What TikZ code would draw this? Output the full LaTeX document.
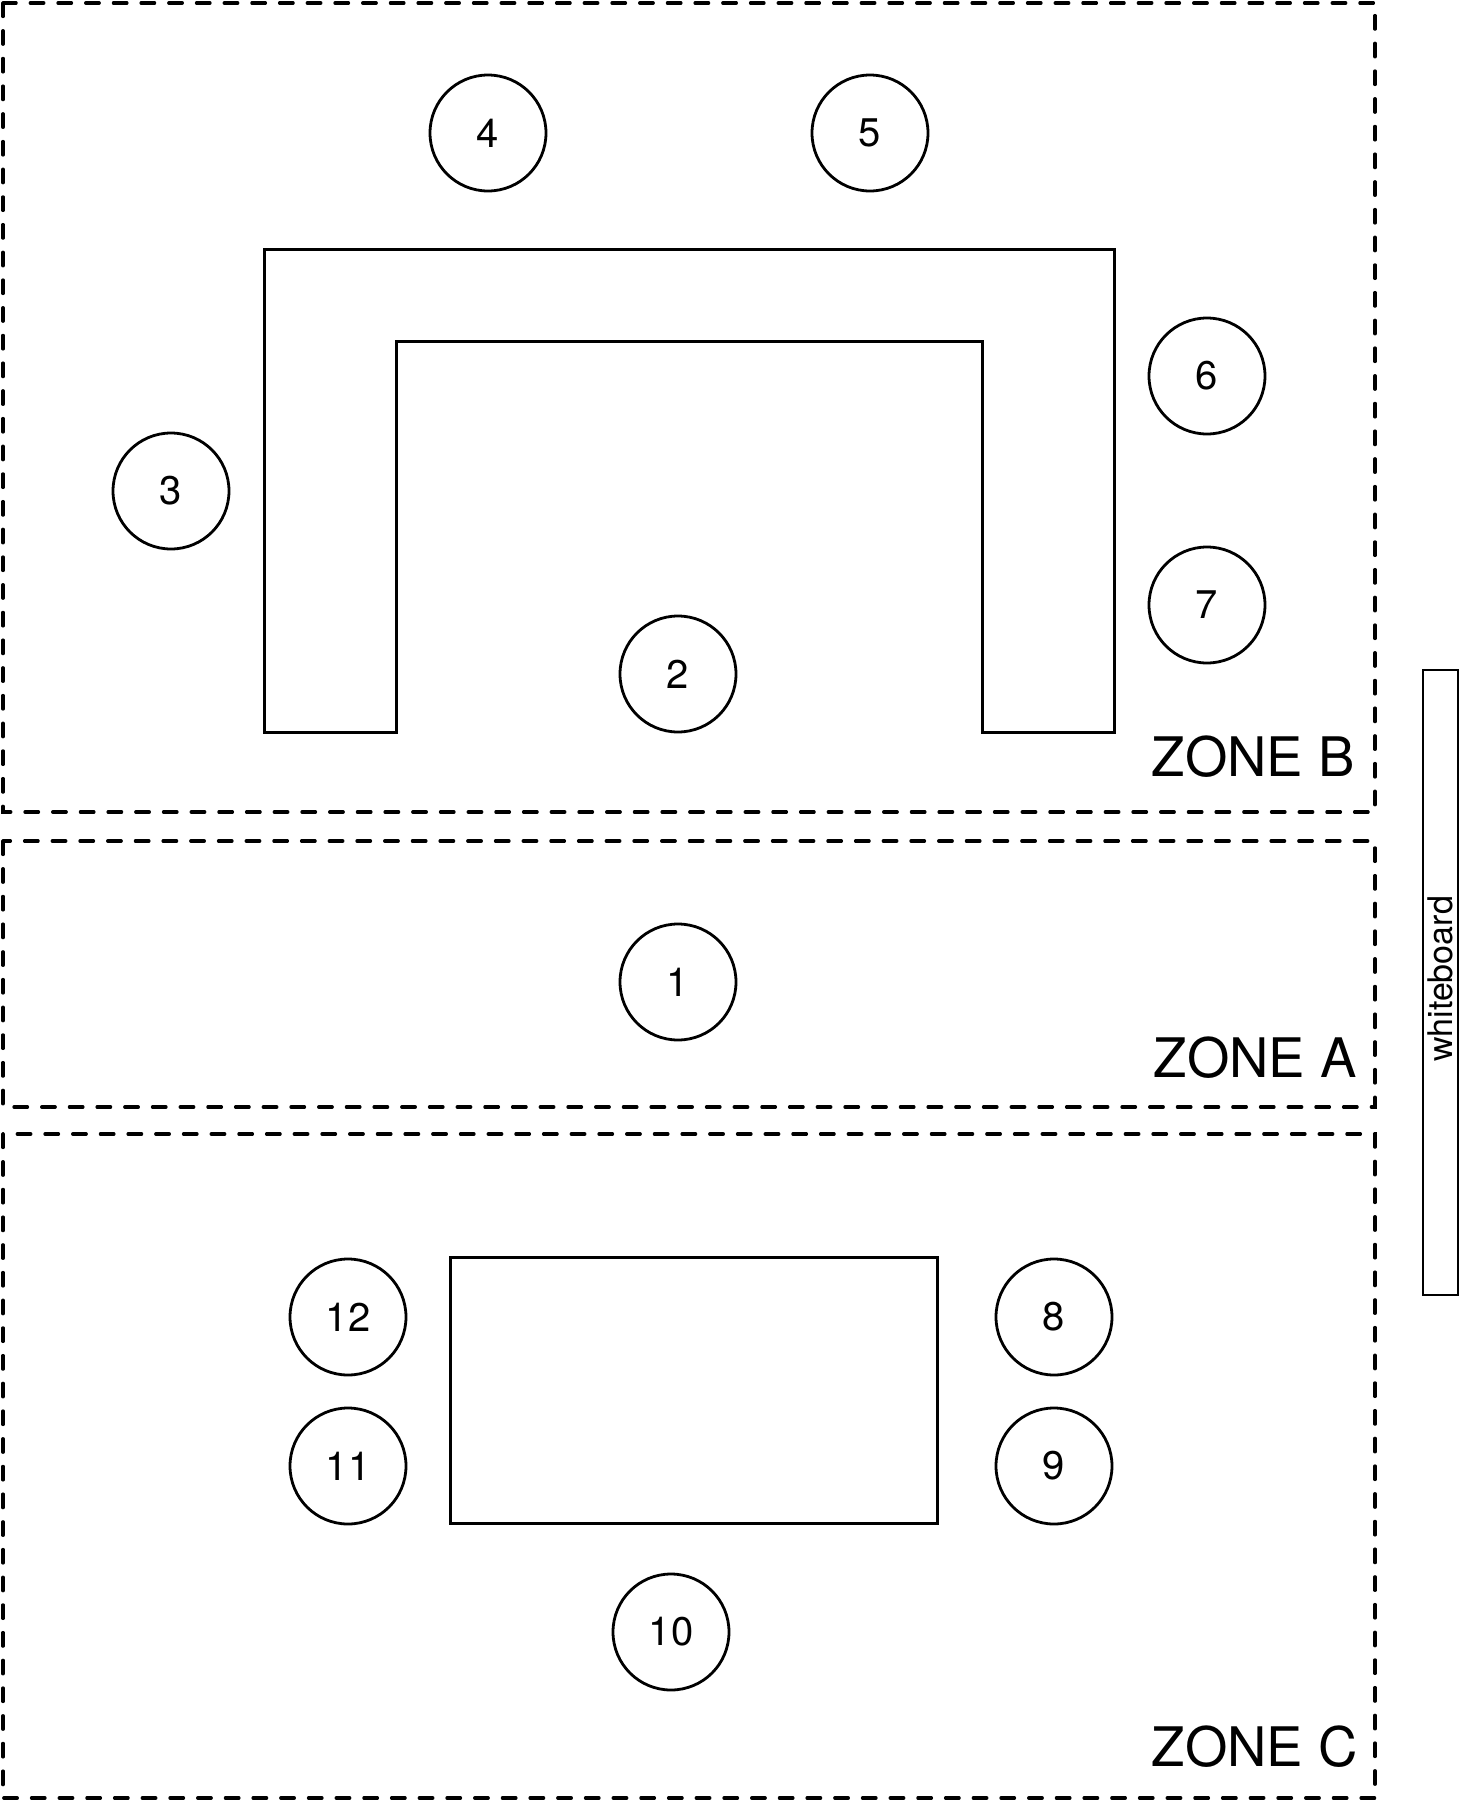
\documentclass[tikz,border=0pt]{standalone}
\usepackage{fontspec}
\setmainfont{TeX Gyre Heros}
\begin{document}
\begin{tikzpicture}[x=1pt,y=-1pt,
  zone/.style={draw,line width=3.3pt,dash pattern=on 13.5pt off 14.2pt,line cap=round},
  furniture/.style={draw,line width=3pt,line join=miter},
  seat/.style={circle,draw,line width=2.8pt,minimum size=116pt,inner sep=0pt,font=\fontsize{40}{48}\selectfont},
  zonelabel/.style={anchor=base east,inner sep=0pt,font=\fontsize{54.5}{64}\selectfont},
  board/.style={draw,line width=2.8pt}]
\useasboundingbox (0,0) rectangle (1482,1802);
% zones
\draw[zone] (3,3) rectangle (1375,812);
\draw[zone] (3,841) rectangle (1375,1107);
\draw[zone] (3,1134) rectangle (1375,1798);
% U-shaped table
\draw[furniture] (264,249) -- (1114,249) -- (1114,732) -- (982,732) -- (982,341) -- (396,341) -- (396,732) -- (264,732) -- cycle;
% rectangular table
\draw[furniture] (450,1257) rectangle (937,1523);
% whiteboard
\draw[board] (1423,670) rectangle (1458,1295);
\node[rotate=90,inner sep=0pt,font=\fontsize{34}{40}\selectfont] (wb) at (1440.5,979) {whiteboard};
% seats
\node[seat] (s4) at (488,133) {4};
\node[seat] (s5) at (870,133) {5};
\node[seat] (s6) at (1207,376) {6};
\node[seat] (s3) at (171,491) {3};
\node[seat] (s7) at (1207,605) {7};
\node[seat] (s2) at (678,674) {2};
\node[seat] (s1) at (678,982) {1};
\node[seat] (s12) at (348,1317) {12};
\node[seat] (s8) at (1054,1317) {8};
\node[seat] (s11) at (348,1466) {11};
\node[seat] (s9) at (1054,1466) {9};
\node[seat] (s10) at (671,1632) {10};
% zone labels
\node[zonelabel] (zb) at (1355,776) {ZONE B};
\node[zonelabel] (za) at (1357,1077) {ZONE A};
\node[zonelabel] (zc) at (1358,1766) {ZONE C};
\end{tikzpicture}
\end{document}
